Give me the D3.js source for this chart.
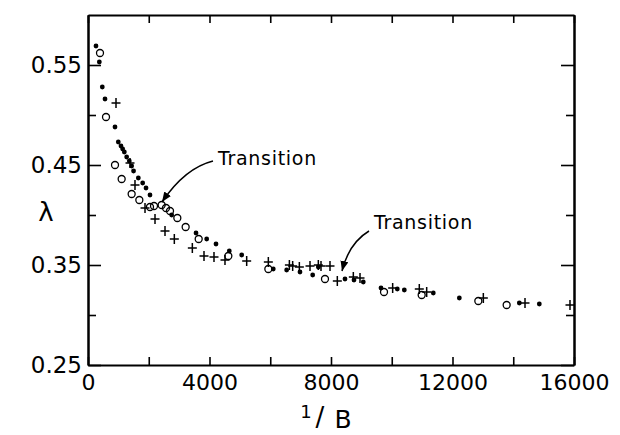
<!DOCTYPE html>
<html><head><meta charset="utf-8">
<script src="https://cdn.jsdelivr.net/npm/d3@7"></script>
<style>body{margin:0;background:#fff} svg{display:block}</style>
</head><body><svg id="c" width="620" height="435"></svg>
<script>
// ---- data (1/B, lambda) ----
const solidDots = [
  [263,0.569],[373,0.553],[471,0.528],[560,0.516],[889,0.488],[997,0.473],[1086,0.469],
  [1141,0.466],[1196,0.463],[1273,0.458],[1360,0.454],[1437,0.449],[1500,0.444],[1657,0.437],
  [1800,0.432],[1910,0.427],[2041,0.420],[2755,0.400],[3556,0.382],[3907,0.376],[4214,0.371],
  [4652,0.364],[5060,0.360],[6100,0.346],[6540,0.345],[6979,0.343],[7397,0.340],[7583,0.348],
  [8461,0.336],[8757,0.335],[9063,0.333],[9646,0.327],[10183,0.326],[10414,0.325],[11368,0.322],
  [12225,0.317],[14200,0.312],[14858,0.311]
];
const openCircles = [
  [395,0.562],[593,0.498],[889,0.450],[1108,0.436],[1437,0.421],[1690,0.415],[2041,0.408],
  [2173,0.409],[2425,0.410],[2568,0.407],[2700,0.404],[2941,0.397],[3215,0.388],[3644,0.376],
  [4620,0.359],[5937,0.346],[7802,0.336],[9745,0.323],[10985,0.320],[12850,0.314],[13783,0.310]
];
const crosses = [
  [922,0.512],[1383,0.452],[1547,0.430],[1877,0.407],[2206,0.396],[2535,0.384],[2842,0.376],
  [3435,0.367],[3819,0.359],[4148,0.358],[4510,0.355],[5224,0.354],[5937,0.353],[6630,0.350],
  [6738,0.349],[6958,0.348],[7309,0.349],[7583,0.350],[7671,0.349],[7967,0.349],[8208,0.334],
  [8735,0.338],[8955,0.337],[10030,0.327],[10907,0.326],[11150,0.323],[13015,0.317],
  [14387,0.312],[15868,0.310]
];
const xTickValues = [0,2000,4000,6000,8000,10000,12000,14000,16000];
const xTickLabels = [0,4000,8000,12000,16000];
const yMajorTicks = [0.25,0.35,0.45,0.55];
const yMinorTicks = [0.30,0.40,0.50];
const annotationText = "Transition";

// ---- layout ----
const L=88, R=574, T=15, B=365;
const svg = d3.select("#c");
const x = d3.scaleLinear().domain([0,16000]).range([L,R]);
const y = d3.scaleLinear().domain([0.25,0.60]).range([B,T]);
const font = "'DejaVu Sans', sans-serif";

function styleAxis(g, fs){
  g.selectAll(".domain").attr("stroke","#000").attr("stroke-width",2);
  g.selectAll(".tick line").attr("stroke","#000").attr("stroke-width",1.6);
  g.selectAll(".tick text").attr("fill","#000").style("font-family",font).style("font-size",fs+"px");
}

// bottom
svg.append("g").attr("transform",`translate(0,${B})`)
  .call(d3.axisBottom(x).tickValues(xTickValues).tickSizeInner(-8).tickSizeOuter(0).tickPadding(9)
    .tickFormat(d => xTickLabels.includes(d) ? String(d) : ""))
  .call(g=>styleAxis(g,22));
// top
svg.append("g").attr("transform",`translate(0,${T})`)
  .call(d3.axisTop(x).tickValues(xTickValues).tickSizeInner(-8).tickSizeOuter(0).tickFormat(""))
  .call(g=>styleAxis(g,22));
// left major / minor
svg.append("g").attr("transform",`translate(${L},0)`)
  .call(d3.axisLeft(y).tickValues(yMajorTicks).tickSizeInner(-13).tickSizeOuter(0).tickPadding(6)
    .tickFormat(d3.format(".2f")))
  .call(g=>styleAxis(g,23));
svg.append("g").attr("transform",`translate(${L},0)`)
  .call(d3.axisLeft(y).tickValues(yMinorTicks).tickSizeInner(-8).tickSizeOuter(0).tickFormat(""))
  .call(g=>styleAxis(g,23));
// right major / minor
svg.append("g").attr("transform",`translate(${R},0)`)
  .call(d3.axisRight(y).tickValues(yMajorTicks).tickSizeInner(-13).tickSizeOuter(0).tickFormat(""))
  .call(g=>styleAxis(g,23));
svg.append("g").attr("transform",`translate(${R},0)`)
  .call(d3.axisRight(y).tickValues(yMinorTicks).tickSizeInner(-8).tickSizeOuter(0).tickFormat(""))
  .call(g=>styleAxis(g,23));

// axis titles
svg.append("text").attr("x",46).attr("y",221).attr("text-anchor","middle")
  .style("font-family",font).style("font-size","26px").text("λ");
const xt = svg.append("g");
xt.append("text").attr("x",306).attr("y",418).attr("text-anchor","middle")
  .style("font-family",font).style("font-size","18px").text("1");
xt.append("text").attr("x",320).attr("y",426).attr("text-anchor","middle")
  .style("font-family",font).style("font-size","26px").text("/");
xt.append("text").attr("x",343).attr("y",428).attr("text-anchor","middle")
  .style("font-family",font).style("font-size","25px").text("B");

// marks
const plot = svg.append("g");
plot.selectAll("circle.solid").data(solidDots).join("circle").attr("class","solid")
  .attr("cx",d=>x(d[0])).attr("cy",d=>y(d[1])).attr("r",2.4).attr("fill","#000");
plot.selectAll("circle.open").data(openCircles).join("circle").attr("class","open")
  .attr("cx",d=>x(d[0])).attr("cy",d=>y(d[1])).attr("r",3.5)
  .attr("fill","none").attr("stroke","#000").attr("stroke-width",1.3);
plot.selectAll("path.plus").data(crosses).join("path").attr("class","plus")
  .attr("d",d=>`M${x(d[0])-4.5},${y(d[1])}h9M${x(d[0])},${y(d[1])-5}v10`)
  .attr("stroke","#000").attr("stroke-width",1.5).attr("fill","none");

// annotations
svg.append("defs").append("marker").attr("id","ah").attr("markerUnits","userSpaceOnUse")
  .attr("markerWidth",12).attr("markerHeight",10).attr("refX",10).attr("refY",4)
  .attr("orient","auto").append("path").attr("d","M0,0L10,4L0,8z").attr("fill","#000");

function arrow(p0,c,p1){
  const p = d3.path();
  p.moveTo(x(p0[0]),y(p0[1]));
  p.quadraticCurveTo(x(c[0]),y(c[1]),x(p1[0]),y(p1[1]));
  svg.append("path").attr("d",p.toString()).attr("fill","none").attr("stroke","#000")
    .attr("stroke-width",1.5).attr("marker-end","url(#ah)");
}
arrow([4115,0.454],[3193,0.447],[2436,0.413]);
arrow([9251,0.384],[8593,0.372],[8362,0.344]);
svg.append("text").attr("x",x(4280)).attr("y",y(0.450))
  .style("font-family",font).style("font-size","19px").style("letter-spacing","0.7px").text(annotationText);
svg.append("text").attr("x",x(9416)).attr("y",y(0.386))
  .style("font-family",font).style("font-size","19px").style("letter-spacing","0.7px").text(annotationText);
</script></body></html>
